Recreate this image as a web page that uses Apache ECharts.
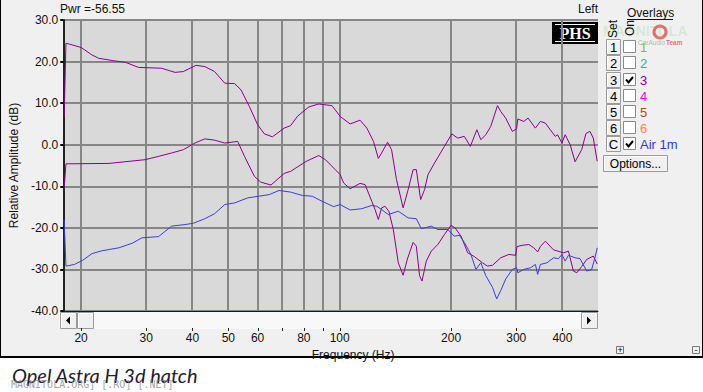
<!DOCTYPE html>
<html><head><meta charset="utf-8">
<script src="https://cdn.jsdelivr.net/npm/echarts@6/dist/echarts.min.js"></script>
<style>html,body{margin:0;padding:0;background:#fff}#c{width:703px;height:392px}</style>
</head><body><div id="c"></div>
<script>
// ---- data ----
const xGridValues = [20,30,40,50,60,70,80,90,100,200,300,400];
const xLabelValues = [20,30,40,50,60,80,100,200,300,400];
const yTickValues = [30,20,10,0,-10,-20,-30,-40];

// Overlay 3 (upper purple)  [Hz, dB]
const overlay3Upper = [[18.0,6.5],[18.2,24.4],[18.6,24.2],[20.0,23.4],[21.4,21.6],[22.3,20.8],[24.5,20.2],[26.4,19.8],[28.6,18.6],[33.0,18.4],[35.9,17.4],[37.8,17.6],[40.9,19.1],[43.2,18.8],[45.9,17.6],[48.9,14.8],[52.0,14.7],[54.1,13.2],[57.0,9.2],[60.0,4.8],[62.6,2.6],[65.8,1.9],[70.8,4.0],[73.7,4.6],[76.8,6.8],[81.2,8.6],[82.6,9.1],[87.8,9.8],[95.3,9.4],[100.3,6.8],[106.7,5.0],[113.5,5.9],[118.4,4.0],[123.4,0.8],[127.2,-3.3],[129.8,-2.0],[134.7,0.6],[138.1,-1.2],[142.4,-8.4],[148.4,-15.2],[153.1,-10.8],[157.9,-6.0],[161.1,-6.0],[165.5,-13.2],[169.6,-10.8],[173.2,-7.2],[180.4,-4.4],[191.9,-0.4],[200.9,2.6],[208.4,1.6],[217.2,2.0],[225.5,-0.4],[234.8,3.6],[240.7,1.2],[248.2,2.4],[256,4.4],[267,9.4],[272.4,8.0],[281,6.4],[292.8,3.2],[300.6,3.8],[303,6.2],[314.4,5.6],[323,6.4],[338,4.0],[348.6,5.6],[359.6,5.2],[370.8,3.6],[382.4,2.0],[388,2.4],[398.6,0.4],[406.8,2.4],[419.6,0.0],[432.7,-4.1],[450.9,-1.2],[463,2.7],[474.6,3.2],[484.6,1.6],[496.6,-4.0]];

// Overlay 3 (lower purple)  [Hz, dB]
const overlay3Lower = [[18.0,-10.6],[18.2,-4.6],[23.8,-4.5],[29.8,-3.6],[32.4,-2.8],[35.1,-2.0],[37.8,-1.2],[40.6,0.4],[43.2,1.4],[45.9,1.1],[48.9,0.4],[53.0,0.8],[55.3,-2.8],[58.8,-7.6],[61.2,-9.0],[65.2,-9.7],[70.8,-6.9],[73.7,-6.4],[81.2,-4.0],[87.8,-2.6],[91.5,-3.6],[97.3,-6.0],[100.3,-7.2],[102.5,-9.2],[106.7,-10.6],[113.5,-9.3],[117.1,-9.6],[122.1,-13.6],[124.6,-15.6],[127.2,-18.0],[129.8,-15.2],[132.5,-14.8],[135.8,-16.0],[139.6,-20.4],[144.0,-28.4],[148.4,-31.4],[152.4,-27.5],[157.9,-23.5],[161.1,-24.4],[164.4,-31.5],[166.9,-32.8],[171.4,-28.0],[176.8,-25.6],[184.2,-24.0],[191.9,-21.6],[200,-19.4],[205,-20.0],[212.8,-22.0],[221.8,-26.0],[231,-26.9],[243.2,-28.4],[250.8,-29.2],[258.8,-29.0],[272.4,-27.2],[286.6,-26.4],[298.8,-26.6],[301.5,-24.5],[311.4,-24.2],[324.4,-24.0],[334.6,-24.8],[342.8,-25.8],[348.6,-24.5],[359.6,-23.2],[378.4,-25.3],[402.6,-26.0],[415.2,-25.6],[428.2,-30.4],[437.4,-30.8],[450.9,-29.3],[465.2,-27.6],[484.6,-26.8],[496.6,-28.7]];

// Air 1m (blue)  [Hz, dB]
const air1m = [[18.0,-18.0],[18.2,-29.2],[19.2,-28.8],[20.2,-27.8],[21.4,-26.2],[22.8,-25.5],[25.3,-24.8],[27.5,-23.7],[29.2,-22.4],[32.4,-22.1],[35.1,-19.6],[38.2,-19.2],[40.2,-18.9],[43.2,-17.8],[45.9,-16.6],[48.9,-14.4],[52.0,-14.0],[56.4,-12.8],[64.5,-12.0],[68.6,-11.0],[73.7,-11.4],[79.2,-12.2],[84.3,-12.4],[89.6,-13.6],[96.3,-14.9],[100.3,-14.4],[106.7,-15.7],[114.7,-15.4],[122.1,-14.6],[125.9,-14.8],[129.8,-15.6],[135.3,-16.8],[144.0,-16.0],[153.1,-17.6],[161.1,-17.8],[166.2,-20.2],[176.8,-19.6],[184.2,-20.4],[196,-20.4],[204,-22.0],[210.6,-21.8],[217.2,-23.5],[226.3,-26.4],[233.4,-30.0],[240.7,-28.4],[248.2,-31.5],[258.8,-34.3],[265.6,-37.1],[272.4,-35.1],[281,-32.3],[292.8,-30.0],[300.6,-29.6],[303,-30.8],[314.4,-30.0],[327.8,-29.6],[338,-28.8],[342.8,-31.2],[348.6,-28.8],[363.4,-28.4],[378.4,-27.2],[390.2,-27.4],[398.6,-26.4],[406.8,-28.0],[415.2,-26.6],[432.7,-27.2],[446.2,-27.4],[465.2,-30.4],[479.8,-30.0],[489.6,-27.2],[496.6,-24.8]];

const overlayNames = ['1','2','3','4','5','6','Air 1m'];
const overlayButtons = ['1','2','3','4','5','6','C'];
const overlayColors = ['#8fbf1a','#1fb5b5','#8a008a','#ff00ff','#a0521a','#ff7f50','#3333ff'];
const overlayOn = [false,false,true,false,false,false,true];

// ---- chart ----
const chart = echarts.init(document.getElementById('c'), null, {renderer:'svg'});
const FONT = 'Liberation Sans, Arial, sans-serif';

const g = [];
// bottom white strip + frame
g.push({type:'rect', shape:{x:0,y:358,width:703,height:34}, style:{fill:'#ffffff'}, z:0});
g.push({type:'line', shape:{x1:0.5,y1:0,x2:0.5,y2:357}, style:{stroke:'#000',lineWidth:1}});
g.push({type:'line', shape:{x1:702.5,y1:0,x2:702.5,y2:357}, style:{stroke:'#000',lineWidth:1}});
g.push({type:'line', shape:{x1:0,y1:357,x2:703,y2:357}, style:{stroke:'#000',lineWidth:2}});
// top texts
g.push({type:'text', x:60, y:9, style:{text:'Pwr =-56.55', font:'12px '+FONT, fill:'#111', verticalAlign:'middle'}});
g.push({type:'text', x:578, y:9, style:{text:'Left', font:'12px '+FONT, fill:'#111', verticalAlign:'middle'}});
// scrollbar
g.push({type:'rect', shape:{x:59,y:312,width:539,height:17}, style:{fill:'#f8f8f8'}});
function btn(x,y,w,h){
  g.push({type:'rect', shape:{x:x,y:y,width:w,height:h}, style:{fill:'#f0f0f0', stroke:'#9a9a9a', lineWidth:1}});
  g.push({type:'polyline', shape:{points:[[x+1,y+h-1],[x+1,y+1],[x+w-1,y+1]]}, style:{stroke:'#ffffff', lineWidth:1, fill:null}});
}
btn(60.5,312.5,16,16);
btn(77.5,312.5,16,16);
btn(581.5,312.5,16,16);
g.push({type:'polygon', shape:{points:[[66,320.5],[70,316.5],[70,324.5]]}, style:{fill:'#000'}});
g.push({type:'polygon', shape:{points:[[587,316.5],[591,320.5],[587,324.5]]}, style:{fill:'#000'}});
// PHS logo
g.push({type:'rect', shape:{x:552,y:22,width:46,height:22}, style:{fill:'#000'}});
g.push({type:'line', shape:{x1:555,y1:24.5,x2:595,y2:24.5}, style:{stroke:'#fff',lineWidth:1}});
g.push({type:'line', shape:{x1:555,y1:41.5,x2:595,y2:41.5}, style:{stroke:'#fff',lineWidth:1}});
g.push({type:'text', x:575, y:33.5, style:{text:'PHS', font:'bold 16px Liberation Serif, Times New Roman, serif', fill:'#fff', align:'center', verticalAlign:'middle'}});
// watermark logo
g.push({type:'text', x:603, y:31, style:{text:'MAGNITOLA', font:'bold 14px '+FONT, fill:'rgba(120,200,120,0.22)', verticalAlign:'middle'}});
g.push({type:'circle', shape:{cx:660,cy:32,r:6}, style:{stroke:'rgba(225,80,80,0.8)', lineWidth:3, fill:null}});
g.push({type:'text', x:638, y:42, style:{text:'CarAudio', font:'6.5px '+FONT, fill:'rgba(120,150,120,0.6)', verticalAlign:'middle'}});
g.push({type:'text', x:666, y:42, style:{text:'Team', font:'bold 6.5px '+FONT, fill:'rgba(225,80,80,0.8)', verticalAlign:'middle'}});
// Overlays panel
g.push({type:'text', x:627, y:13, style:{text:'Overlays', font:'12px '+FONT, fill:'#111', verticalAlign:'middle'}});
g.push({type:'line', shape:{x1:627,y1:19.5,x2:673,y2:19.5}, style:{stroke:'#111',lineWidth:1}});
g.push({type:'text', x:613, y:29, rotation:Math.PI/2, style:{text:'Set', font:'12px '+FONT, fill:'#111', align:'center', verticalAlign:'middle'}});
g.push({type:'text', x:630, y:28, rotation:Math.PI/2, style:{text:'On', font:'12px '+FONT, fill:'#111', align:'center', verticalAlign:'middle'}});
const rowY = [47,63,80,96,112,128,144];
overlayNames.forEach((name,i)=>{
  const c = rowY[i];
  btn(606.5,c-7.5,14,15);
  g.push({type:'text', x:613.5, y:c, style:{text:overlayButtons[i], font:'13px '+FONT, fill:'#000', align:'center', verticalAlign:'middle'}});
  g.push({type:'rect', shape:{x:623.5,y:c-6.5,width:12,height:12}, style:{fill:'#fff', stroke:'#8a8a8a', lineWidth:1}});
  if (overlayOn[i]) g.push({type:'polyline', shape:{points:[[626,c-0.5],[628.5,c+2.5],[633,c-3]]}, style:{stroke:'#000', lineWidth:2, fill:null}});
  g.push({type:'text', x:640, y:c, style:{text:name, font:'13px '+FONT, fill:overlayColors[i], verticalAlign:'middle'}});
});
btn(603.5,155.5,64,16);
g.push({type:'text', x:635.5, y:164, style:{text:'Options...', font:'12px '+FONT, fill:'#000', align:'center', verticalAlign:'middle'}});
// +/- boxes
g.push({type:'rect', shape:{x:616.5,y:346.5,width:7,height:7}, style:{fill:'#f0f0f0', stroke:'#777'}});
g.push({type:'text', x:620, y:350, style:{text:'+', font:'9px '+FONT, fill:'#000', align:'center', verticalAlign:'middle'}});
g.push({type:'rect', shape:{x:692.5,y:346.5,width:7,height:7}, style:{fill:'#f0f0f0', stroke:'#777'}});
g.push({type:'text', x:696, y:350, style:{text:'-', font:'9px '+FONT, fill:'#000', align:'center', verticalAlign:'middle'}});
// caption
g.push({type:'text', x:12, y:375, style:{text:'Opel Astra H 3d hatch', font:'italic 20px Lato, "Open Sans", sans-serif', fill:'#1e2030', verticalAlign:'middle'}});
g.push({type:'text', x:11, y:384, style:{text:'MAGNITOLA.ORG] [.RO] [.NET]', font:'10px "DejaVu Sans Mono", monospace', fill:'rgba(130,130,130,0.75)', verticalAlign:'middle'}});

const option = {
  animation:false,
  backgroundColor:'#f0f0f0',
  grid:{left:59, top:20, right:105, bottom:81, show:true, backgroundColor:'#d9d9d9', borderWidth:0},
  xAxis:{
    type:'log', logBase:10, min:17.9, max:499,
    name:'Frequency (Hz)', nameLocation:'middle', nameGap:35,
    nameTextStyle:{fontFamily:FONT, fontSize:12, color:'#111', padding:[0,0,0,45]},
    axisLine:{show:true, onZero:false, lineStyle:{color:'#0000cc', width:1}},
    axisTick:{show:false},
    splitLine:{show:false}, minorSplitLine:{show:false},
    axisLabel:{customValues:xLabelValues, margin:21, fontFamily:FONT, fontSize:12, color:'#111',
      formatter:v=>String(Math.round(v))}
  },
  yAxis:{
    type:'value', min:-40, max:30, interval:10,
    name:'Relative Amplitude (dB)', nameLocation:'middle', nameGap:41, nameRotate:90,
    nameTextStyle:{fontFamily:FONT, fontSize:12, color:'#111'},
    axisLine:{show:true, lineStyle:{color:'#222', width:2}},
    axisTick:{show:true, length:3, lineStyle:{color:'#000', width:2}},
    axisLabel:{margin:5, fontFamily:FONT, fontSize:12, color:'#111', formatter:v=>v.toFixed(1)},
    splitLine:{show:true, lineStyle:{color:'#868686', width:2}}
  },
  graphic:{elements:g},
  series:[
    {type:'custom', name:'grid', z:1, silent:true, clip:false,
     data:xGridValues.map(v=>[v,-40]), encode:{x:0,y:1},
     renderItem:(params, api)=>{
       const v = api.value(0);
       const t = api.coord([v,30]);
       const b = api.coord([v,-40]);
       const x = Math.round(b[0]);
       return {type:'group', children:[
         {type:'line', shape:{x1:x,y1:t[1],x2:x,y2:b[1]}, style:{stroke:'#868686', lineWidth:2}},
         {type:'line', shape:{x1:x+0.5,y1:b[1]+17,x2:x+0.5,y2:b[1]+20}, style:{stroke:'#222', lineWidth:1}}
       ]};
     }},
    {type:'line', name:'3', z:3, data:overlay3Upper, showSymbol:false, lineStyle:{color:'#8a008a', width:1}, itemStyle:{color:'#8a008a'}},
    {type:'line', name:'3b', z:3, data:overlay3Lower, showSymbol:false, lineStyle:{color:'#8a008a', width:1}, itemStyle:{color:'#8a008a'}},
    {type:'line', name:'Air 1m', z:3, data:air1m, showSymbol:false, lineStyle:{color:'#3c3cd8', width:1}, itemStyle:{color:'#3c3cd8'}}
  ]
};
chart.setOption(option);
</script></body></html>
